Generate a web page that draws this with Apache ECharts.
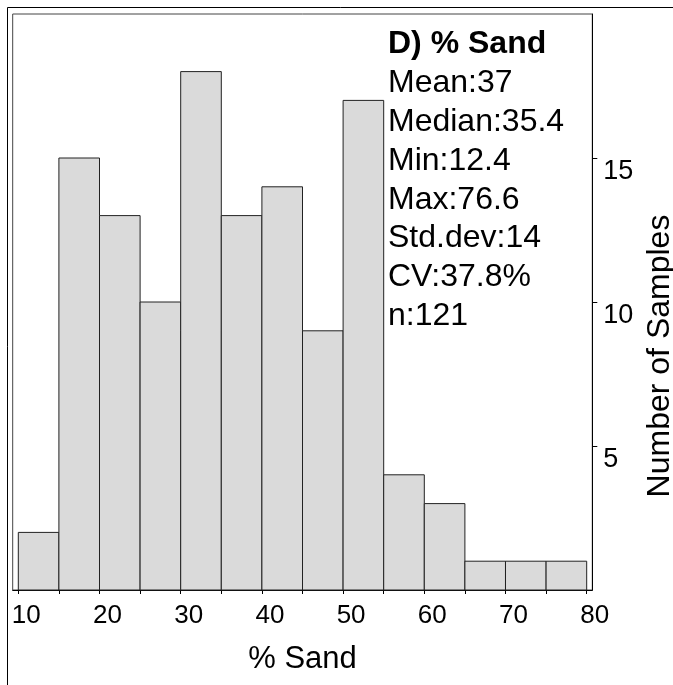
<!DOCTYPE html>
<html>
<head>
<meta charset="utf-8">
<script src="https://cdn.jsdelivr.net/npm/echarts@6/dist/echarts.min.js"></script>
<style>html,body{margin:0;padding:0;background:#fff;}#c{width:673px;height:685px;}</style>
</head>
<body>
<div id="c"></div>
<script>
// Histogram bins (% Sand) and counts
var binEdges = [10, 15, 20, 25, 30, 35, 40, 45, 50, 55, 60, 65, 70, 75, 80];
var counts = [2, 15, 13, 10, 18, 13, 14, 9, 17, 4, 3, 1, 1, 1];
var xTickLabels = [10, 20, 30, 40, 50, 60, 70, 80];
var yTickLabels = [5, 10, 15];
var titleText = 'D) % Sand';
var statLines = ['Mean:37', 'Median:35.4', 'Min:12.4', 'Max:76.6', 'Std.dev:14', 'CV:37.8%', 'n:121'];
var xName = '% Sand';
var yName = 'Number of Samples';

var data = counts.map(function (c, i) { return [binEdges[i], binEdges[i + 1], c]; });
var FONT = '"Liberation Sans", Arial, sans-serif';

var chart = echarts.init(document.getElementById('c'), null, { renderer: 'canvas' });
chart.setOption({
  animation: false,
  backgroundColor: '#fff',
  textStyle: { fontFamily: FONT, color: '#000' },
  title: {
    text: titleText,
    subtext: statLines.join('\n'),
    left: 388,
    top: 24,
    itemGap: 0,
    padding: 0,
    textStyle: { fontFamily: FONT, fontSize: 32, fontWeight: 'bold', color: '#000', lineHeight: 40 },
    subtextStyle: { fontFamily: FONT, fontSize: 32, color: '#000', lineHeight: 38.8 }
  },
  graphic: [{
    type: 'rect', silent: true,
    shape: { x: 7.5, y: 7.5, width: 700, height: 700 },
    style: { fill: 'none', stroke: '#000', lineWidth: 1 }
  }],
  grid: {
    left: 12.7, top: 14, right: 80.7, bottom: 95,
    outerBoundsMode: 'none', containLabel: false,
    show: true, borderColor: '#444', borderWidth: 1, backgroundColor: 'transparent'
  },
  xAxis: {
    type: 'value',
    min: 9.31, max: 80.69,
    name: xName, nameLocation: 'middle', nameGap: 54,
    nameTextStyle: { fontFamily: FONT, fontSize: 31, color: '#000' },
    axisLine: { show: true, onZero: false, lineStyle: { color: '#000', width: 1 } },
    axisTick: { show: true, length: 4, inside: false, customValues: binEdges, lineStyle: { color: '#000' } },
    axisLabel: { customValues: xTickLabels, fontFamily: FONT, fontSize: 26, color: '#000', margin: 13, padding: [0, 0, 0, 16] },
    splitLine: { show: false }
  },
  yAxis: {
    type: 'value',
    position: 'right',
    min: 0, max: 20,
    name: yName, nameLocation: 'middle', nameGap: 47, nameRotate: 90,
    nameTextStyle: { fontFamily: FONT, fontSize: 32, color: '#000', padding: [0, 108, 0, 0] },
    axisLine: { show: true, lineStyle: { color: '#000', width: 1 } },
    axisTick: { show: true, length: 5, inside: false, customValues: yTickLabels, lineStyle: { color: '#000' } },
    axisLabel: { customValues: yTickLabels, fontFamily: FONT, fontSize: 27, color: '#000', margin: 11, verticalAlign: 'top' },
    splitLine: { show: false }
  },
  series: [{
    type: 'custom',
    data: data,
    encode: { x: [0, 1], y: 2 },
    renderItem: function (params, api) {
      var p0 = api.coord([api.value(0), api.value(2)]);
      var p1 = api.coord([api.value(1), 0]);
      return {
        type: 'rect',
        shape: { x: p0[0], y: p0[1], width: p1[0] - p0[0], height: p1[1] - p0[1] },
        style: { fill: '#dadada', stroke: '#222', lineWidth: 1 }
      };
    }
  }]
});
</script>
</body>
</html>
